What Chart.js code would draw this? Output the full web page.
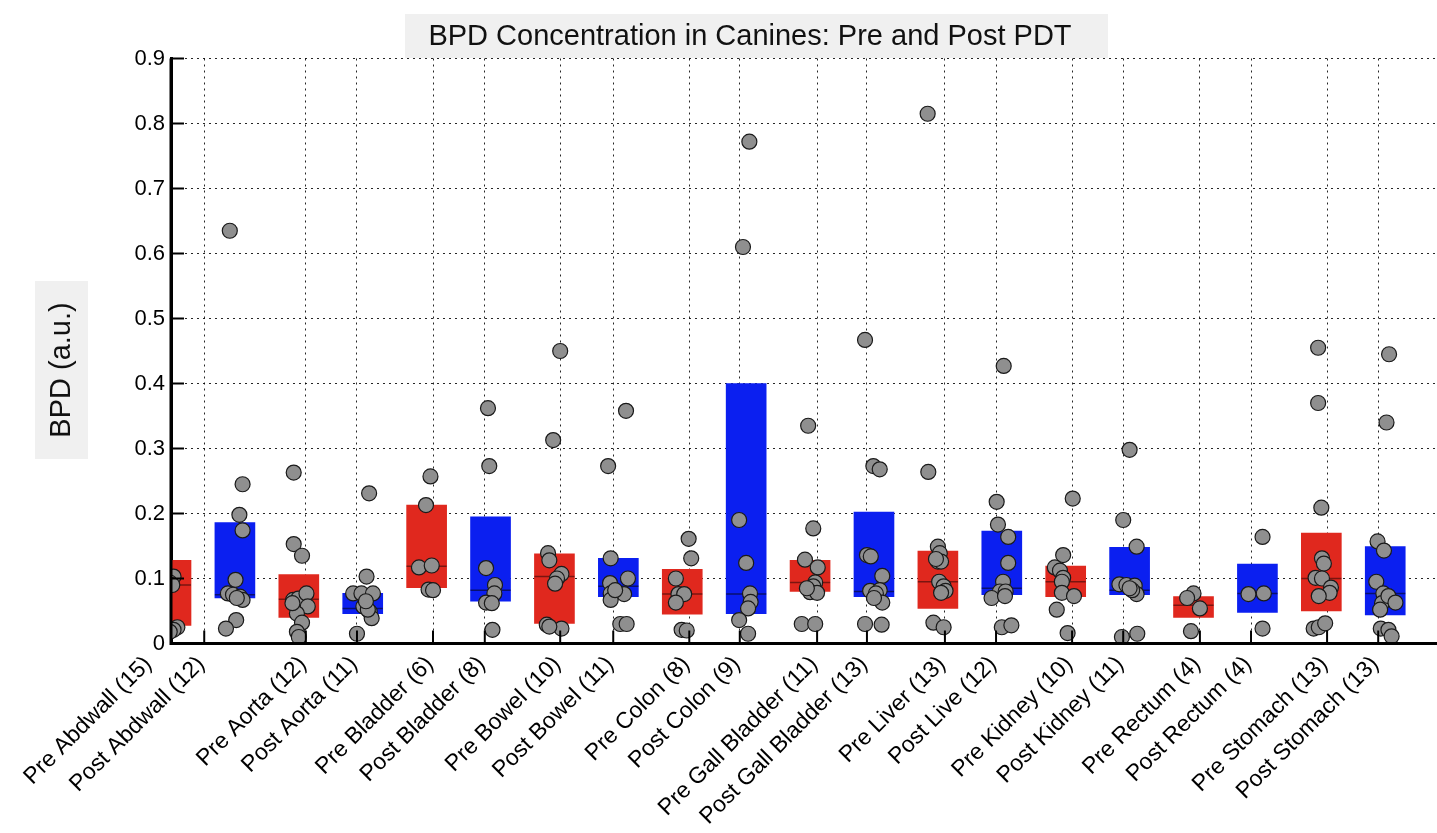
<!DOCTYPE html>
<html>
<head>
<meta charset="utf-8">
<script src="https://cdn.jsdelivr.net/npm/chart.js@4.4.1/dist/chart.umd.min.js"></script>
<style>
html,body{margin:0;padding:0;background:#fff;overflow:hidden;}
#wrap{width:1437px;height:833px;position:relative;}
</style>
</head>
<body>
<div id="wrap"><canvas id="c" width="1437" height="833"></canvas></div>
<script>
// ---------- data ----------
const chartTitle = 'BPD Concentration in Canines: Pre and Post PDT';
const yAxisTitle = 'BPD (a.u.)';

const categories = [
  'Pre Abdwall (15)', 'Post Abdwall (12)', 'Pre Aorta (12)', 'Post Aorta (11)',
  'Pre Bladder (6)', 'Post Bladder (8)', 'Pre Bowel (10)', 'Post Bowel (11)',
  'Pre Colon (8)', 'Post Colon (9)', 'Pre Gall Bladder (11)', 'Post Gall Bladder (13)',
  'Pre Liver (13)', 'Post Live (12)', 'Pre Kidney (10)', 'Post Kidney (11)',
  'Pre Rectum (4)', 'Post Rectum (4)', 'Pre Stomach (13)', 'Post Stomach (13)'
];
// where each tick label sits, in category-index units
const labelPositions = [-0.31, 0.52, 2.11, 2.91, 4.10, 4.91, 6.09, 6.92, 8.11, 8.90,
  10.11, 10.89, 12.11, 12.91, 14.10, 14.90, 16.10, 16.90, 18.09, 18.89];
const yTicks = [0, 0.1, 0.2, 0.3, 0.4, 0.5, 0.6, 0.7, 0.8, 0.9];

// boxes: lower quartile, upper quartile, median
const boxLow  = [0.028, 0.070, 0.040, 0.046, 0.086, 0.065, 0.031, 0.072, 0.045, 0.046,
                 0.080, 0.072, 0.054, 0.075, 0.072, 0.075, 0.040, 0.048, 0.050, 0.044];
const boxHigh = [0.128, 0.186, 0.106, 0.077, 0.213, 0.195, 0.138, 0.131, 0.114, 0.400,
                 0.128, 0.202, 0.142, 0.173, 0.119, 0.148, 0.072, 0.122, 0.170, 0.149];
const medians = [0.090, 0.075, 0.068, 0.054, 0.119, 0.082, 0.103, 0.088, 0.076, 0.076,
                 0.094, 0.080, 0.095, 0.085, 0.095, 0.082, 0.059, 0.077, 0.100, 0.077];

// individual measurements per category, and their horizontal jitter
const pointValues = [
  [0.103, 0.094, 0.090, 0.025, 0.021, 0.018],
  [0.635, 0.245, 0.198, 0.174, 0.098, 0.077, 0.075, 0.072, 0.067, 0.070, 0.036, 0.023],
  [0.263, 0.153, 0.135, 0.067, 0.069, 0.077, 0.057, 0.046, 0.032, 0.018, 0.010, 0.062],
  [0.231, 0.103, 0.077, 0.077, 0.077, 0.057, 0.049, 0.039, 0.052, 0.015, 0.065],
  [0.257, 0.213, 0.117, 0.120, 0.083, 0.082],
  [0.362, 0.273, 0.116, 0.090, 0.077, 0.063, 0.062, 0.021],
  [0.450, 0.313, 0.139, 0.128, 0.107, 0.100, 0.092, 0.029, 0.023, 0.026],
  [0.358, 0.273, 0.131, 0.100, 0.093, 0.077, 0.076, 0.067, 0.030, 0.030, 0.082],
  [0.161, 0.131, 0.100, 0.076, 0.076, 0.063, 0.021, 0.020],
  [0.772, 0.610, 0.190, 0.124, 0.077, 0.064, 0.054, 0.036, 0.015],
  [0.335, 0.177, 0.129, 0.117, 0.094, 0.088, 0.079, 0.078, 0.030, 0.030, 0.085],
  [0.467, 0.273, 0.268, 0.136, 0.134, 0.104, 0.081, 0.082, 0.077, 0.063, 0.030, 0.029, 0.070],
  [0.815, 0.264, 0.149, 0.139, 0.126, 0.126, 0.095, 0.088, 0.081, 0.032, 0.025, 0.130, 0.078],
  [0.427, 0.218, 0.183, 0.164, 0.124, 0.095, 0.080, 0.080, 0.070, 0.025, 0.028, 0.073],
  [0.223, 0.136, 0.117, 0.112, 0.101, 0.095, 0.078, 0.073, 0.052, 0.016],
  [0.298, 0.190, 0.149, 0.091, 0.090, 0.089, 0.076, 0.082, 0.010, 0.015, 0.085],
  [0.077, 0.070, 0.054, 0.019],
  [0.164, 0.076, 0.077, 0.023],
  [0.455, 0.370, 0.209, 0.131, 0.123, 0.101, 0.100, 0.086, 0.078, 0.073, 0.023, 0.025, 0.031],
  [0.445, 0.340, 0.157, 0.143, 0.095, 0.077, 0.062, 0.073, 0.063, 0.052, 0.023, 0.021, 0.011]
];
const pointJitter = [
  [0.04, -0.02, 0.02, 0.10, 0.04, -0.02],
  [-0.08, 0.12, 0.07, 0.12, 0.01, -0.11, -0.03, 0.08, 0.12, 0.03, 0.02, -0.14],
  [-0.08, -0.08, 0.05, -0.09, -0.01, 0.12, 0.14, -0.03, 0.05, -0.03, 0.00, -0.10],
  [0.10, 0.06, -0.15, -0.02, 0.16, 0.01, 0.11, 0.14, 0.08, -0.09, 0.05],
  [0.06, -0.01, -0.12, 0.08, 0.03, 0.10],
  [-0.04, -0.02, -0.07, 0.07, 0.06, -0.07, 0.02, 0.03],
  [0.09, -0.02, -0.10, -0.08, 0.11, 0.04, 0.01, -0.12, 0.11, -0.08],
  [0.12, -0.16, -0.12, 0.15, -0.13, -0.12, 0.09, -0.12, 0.03, 0.13, -0.05],
  [0.10, 0.14, -0.10, -0.06, 0.03, -0.10, -0.01, 0.07],
  [0.05, -0.05, -0.11, 0.00, 0.06, 0.07, 0.03, -0.11, 0.03],
  [-0.03, 0.05, -0.08, 0.12, 0.08, 0.05, 0.00, 0.11, -0.13, 0.08, -0.05],
  [-0.14, -0.01, 0.09, -0.11, -0.05, 0.13, -0.06, 0.09, 0.03, 0.13, -0.14, 0.12, 0.00],
  [-0.16, -0.15, 0.00, 0.03, 0.00, 0.05, 0.02, 0.09, 0.12, -0.07, 0.09, -0.03, 0.05],
  [0.03, -0.08, -0.06, 0.10, 0.10, 0.02, -0.03, 0.06, -0.16, 0.00, 0.15, 0.05],
  [0.11, -0.04, -0.17, -0.09, -0.04, -0.06, -0.06, 0.13, -0.14, 0.03],
  [0.00, -0.10, 0.11, -0.16, -0.05, 0.08, 0.11, 0.04, -0.12, 0.12, 0.00],
  [0.00, -0.10, 0.10, -0.04],
  [0.08, -0.14, 0.10, 0.08],
  [-0.05, -0.05, 0.00, 0.01, 0.04, -0.09, 0.01, 0.15, 0.13, -0.04, -0.12, -0.04, 0.06],
  [0.06, 0.02, -0.12, -0.02, -0.14, -0.03, -0.05, 0.05, 0.16, -0.08, -0.07, 0.05, 0.10]
];

// ---------- styles ----------
const RED = '#e0281e', BLUE = '#0b1ff0';
const RED_MED = '#7a1510', BLUE_MED = '#08106e';
const FONT = '"Liberation Sans", Arial, Helvetica, sans-serif';

// ---------- build datasets ----------
const preBars = [], postBars = [], medianPts = [], medianColors = [], scatterPts = [];
categories.forEach((c, i) => {
  const bar = { x: i, y: [boxLow[i], boxHigh[i]] };
  if (i % 2 === 0) preBars.push(bar); else postBars.push(bar);
  medianPts.push({ x: i, y: medians[i] });
  medianColors.push(i % 2 === 0 ? RED_MED : BLUE_MED);
  pointValues[i].forEach((v, k) => scatterPts.push({ x: i + pointJitter[i][k], y: v }));
});

const clipLeft = { left: 0, top: 20, right: 0, bottom: 20 };

const decor = {
  id: 'decor',
  beforeDraw(chart) {
    const ctx = chart.ctx;
    ctx.save();
    ctx.fillStyle = '#ffffff';
    ctx.fillRect(0, 0, chart.width, chart.height);
    // title box
    ctx.fillStyle = '#f0f0f0';
    ctx.fillRect(405, 14, 703, 44);
    ctx.fillStyle = '#111';
    ctx.font = '29px ' + FONT;
    ctx.textAlign = 'center';
    ctx.textBaseline = 'middle';
    ctx.fillText(chartTitle, 750, 37);
    // y-axis title box
    ctx.fillStyle = '#f0f0f0';
    ctx.fillRect(35, 281, 53, 178);
    ctx.translate(62, 370);
    ctx.rotate(-Math.PI / 2);
    ctx.fillStyle = '#111';
    ctx.fillText(yAxisTitle, 0, 0);
    ctx.restore();
  },
  afterDatasetsDraw(chart) {
    const { ctx, chartArea: a, scales } = chart;
    const x = scales.x, y = scales.y;
    ctx.save();
    // axis lines
    ctx.strokeStyle = '#000';
    ctx.lineWidth = 3;
    ctx.beginPath();
    ctx.moveTo(a.left, a.top);
    ctx.lineTo(a.left, a.bottom);
    ctx.lineTo(a.right, a.bottom);
    ctx.stroke();
    // inward tick marks
    ctx.lineWidth = 2;
    yTicks.forEach(v => {
      const py = y.getPixelForValue(v);
      ctx.beginPath(); ctx.moveTo(a.left, py); ctx.lineTo(a.left + 13, py); ctx.stroke();
    });
    labelPositions.forEach(v => {
      if (v < x.min) return;
      const px = x.getPixelForValue(v);
      ctx.beginPath(); ctx.moveTo(px, a.bottom); ctx.lineTo(px, a.bottom - 13); ctx.stroke();
    });
    // rotated category labels
    ctx.font = '23px ' + FONT;
    ctx.fillStyle = '#000';
    ctx.textAlign = 'right';
    ctx.textBaseline = 'middle';
    categories.forEach((c, i) => {
      const px = x.getPixelForValue(labelPositions[i]);
      ctx.save();
      ctx.translate(px - 3, a.bottom + 17);
      ctx.rotate(-Math.PI / 4);
      ctx.fillText(c, 0, 0);
      ctx.restore();
    });
    ctx.restore();
  }
};

new Chart(document.getElementById('c'), {
  type: 'bar',
  data: {
    datasets: [
      { label: 'Pre', data: preBars, backgroundColor: RED, borderWidth: 0,
        barThickness: 40, grouped: false, order: 3, clip: clipLeft },
      { label: 'Post', data: postBars, backgroundColor: BLUE, borderWidth: 0,
        barThickness: 40, grouped: false, order: 3, clip: clipLeft },
      { type: 'scatter', label: 'Median', data: medianPts, pointStyle: 'line',
        pointRadius: 20, pointHoverRadius: 20, borderColor: medianColors,
        pointBorderColor: medianColors, borderWidth: 1.5, pointBorderWidth: 1.5,
        order: 2, clip: clipLeft },
      { type: 'scatter', label: 'Samples', data: scatterPts, pointStyle: 'circle',
        pointRadius: 7.5, pointHoverRadius: 7.5, backgroundColor: '#8f8f8f',
        pointBackgroundColor: '#8f8f8f', borderColor: '#1a1a1a',
        pointBorderColor: '#1a1a1a', pointBorderWidth: 1.2, order: 1, clip: clipLeft }
    ]
  },
  options: {
    responsive: false,
    animation: false,
    events: [],
    layout: { autoPadding: false, padding: { top: 58.5, left: 0, right: 0, bottom: 0 } },
    plugins: { legend: { display: false }, title: { display: false }, tooltip: { enabled: false } },
    scales: {
      x: {
        type: 'linear',
        min: 0,
        max: 19.81,
        offset: false,
        afterBuildTicks: s => { s.ticks = labelPositions.filter(v => v >= 0).map(v => ({ value: v })); },
        afterFit: s => { s.height = 189.5; },
        ticks: { display: false },
        grid: { display: true, offset: false, drawTicks: false, color: 'rgba(0,0,0,0.85)', lineWidth: 1 },
        border: { display: true, color: '#000', width: 3, dash: [2, 4] }
      },
      y: {
        type: 'linear',
        min: 0,
        max: 0.9,
        afterBuildTicks: s => { s.ticks = yTicks.map(v => ({ value: v })); },
        afterFit: s => { s.width = 171; },
        ticks: {
          padding: 6,
          color: '#000',
          font: { family: FONT, size: 22 },
          callback: v => (v === 0 ? '0' : Number(v).toFixed(1))
        },
        grid: { display: true, drawTicks: false, color: 'rgba(0,0,0,0.85)', lineWidth: 1 },
        border: { display: true, color: '#000', width: 3, dash: [2, 4] }
      }
    }
  },
  plugins: [decor]
});
</script>
</body>
</html>
